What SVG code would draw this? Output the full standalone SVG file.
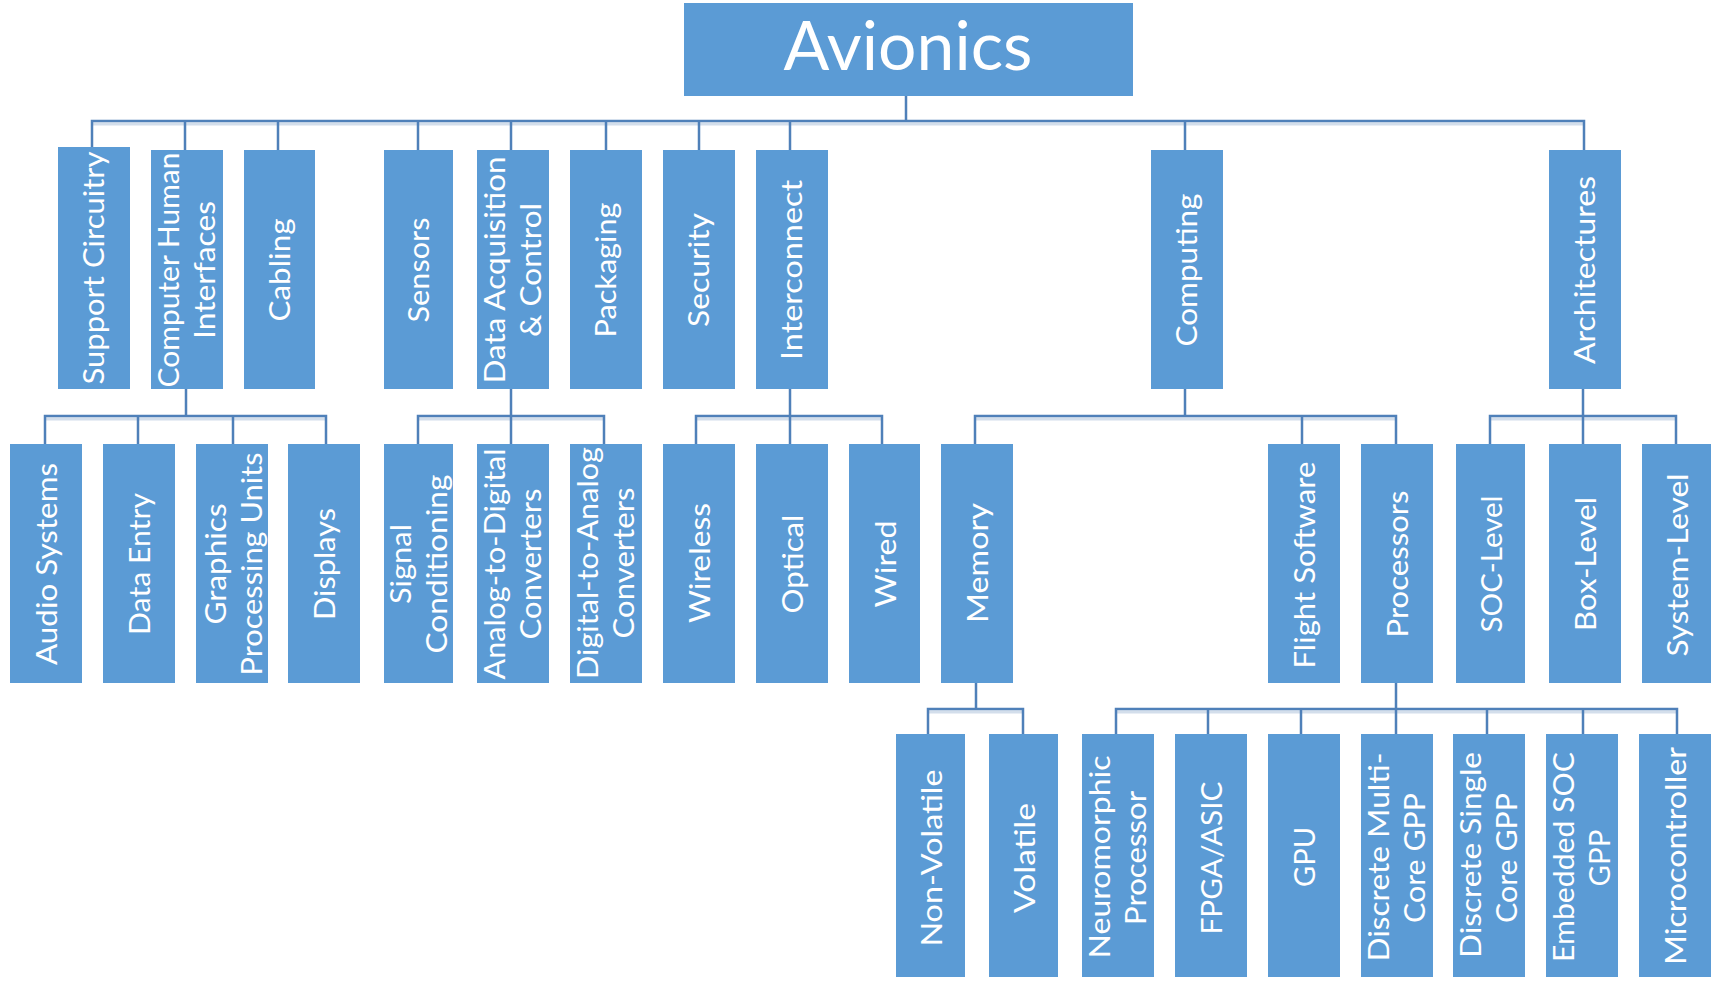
<svg xmlns="http://www.w3.org/2000/svg" width="1711" height="981" viewBox="0 0 1711 981">
<style>
.box{fill:#5b9bd5}
.lbl{fill:#ffffff;font-family:Lato,"Liberation Sans",sans-serif;font-size:29px;text-anchor:middle}
.title{fill:#ffffff;font-family:Lato,"Liberation Sans",sans-serif;font-size:67px;text-anchor:middle}
.ln{fill:none;stroke:#4f80b9;stroke-width:2.5}
.sh{fill:none;stroke:#d3deeb;stroke-width:3}
</style>
<rect width="1711" height="981" fill="#ffffff"/>
<g id="connectors">
<g class="sh-group">
<path class="sh" d="M92 124H1584M45 419H326M418 419H604M696 419H882M975 419H1396M1490 419H1676M928 712H1023M1116 712H1677"/>
</g>
<path class="ln" d="M906 96V121M92 147V121H1584V150M185 121V150M278 121V150M418 121V150M511 121V150M606 121V150M699 121V150M790 121V150M1185 121V150"/>
<path class="ln" d="M186 389V416M45 444V416H326V444M138 416V444M233 416V444"/>
<path class="ln" d="M511 389V416M418 444V416H604V444M511 416V444"/>
<path class="ln" d="M790 389V416M696 444V416H882V444M790 416V444"/>
<path class="ln" d="M1185 389V416M975 444V416H1396V444M1302 416V444"/>
<path class="ln" d="M1583 389V416M1490 444V416H1676V444M1583 416V444"/>
<path class="ln" d="M976 683V709M928 734V709H1023V734"/>
<path class="ln" d="M1396 683V734M1116 734V709H1677V734M1208 709V734M1301 709V734M1487 709V734M1583 709V734"/>
</g>
<g id="n-avionics"><rect class="box" x="684" y="3" width="449" height="93"/><text class="title" x="908" y="70" textLength="249" lengthAdjust="spacingAndGlyphs">Avionics</text></g>
<g id="n-support"><rect class="box" x="58" y="147" width="72" height="242"/><text class="lbl" transform="translate(94,268) rotate(-90)" y="10" textLength="233" lengthAdjust="spacingAndGlyphs">Support Circuitry</text></g>
<g id="n-chi"><rect class="box" x="151" y="150" width="72" height="239"/><text class="lbl" transform="translate(187,270) rotate(-90)" y="-8" textLength="235" lengthAdjust="spacingAndGlyphs">Computer Human</text><text class="lbl" transform="translate(187,270) rotate(-90)" y="28" textLength="138" lengthAdjust="spacingAndGlyphs">Interfaces</text></g>
<g id="n-cabling"><rect class="box" x="244" y="150" width="71" height="239"/><text class="lbl" transform="translate(279.5,270) rotate(-90)" y="10" textLength="103" lengthAdjust="spacingAndGlyphs">Cabling</text></g>
<g id="n-sensors"><rect class="box" x="384" y="150" width="69" height="239"/><text class="lbl" transform="translate(418.5,270) rotate(-90)" y="10" textLength="105" lengthAdjust="spacingAndGlyphs">Sensors</text></g>
<g id="n-dataacq"><rect class="box" x="477" y="150" width="72" height="239"/><text class="lbl" transform="translate(513,270) rotate(-90)" y="-8" textLength="227" lengthAdjust="spacingAndGlyphs">Data Acquisition</text><text class="lbl" transform="translate(513,270) rotate(-90)" y="28" textLength="134" lengthAdjust="spacingAndGlyphs">&amp; Control</text></g>
<g id="n-packaging"><rect class="box" x="570" y="150" width="72" height="239"/><text class="lbl" transform="translate(606,270) rotate(-90)" y="10" textLength="135" lengthAdjust="spacingAndGlyphs">Packaging</text></g>
<g id="n-security"><rect class="box" x="663" y="150" width="72" height="239"/><text class="lbl" transform="translate(699,270) rotate(-90)" y="10" textLength="114" lengthAdjust="spacingAndGlyphs">Security</text></g>
<g id="n-interconnect"><rect class="box" x="756" y="150" width="72" height="239"/><text class="lbl" transform="translate(792,270) rotate(-90)" y="10" textLength="180" lengthAdjust="spacingAndGlyphs">Interconnect</text></g>
<g id="n-computing"><rect class="box" x="1151" y="150" width="72" height="239"/><text class="lbl" transform="translate(1187,270) rotate(-90)" y="10" textLength="153" lengthAdjust="spacingAndGlyphs">Computing</text></g>
<g id="n-architectures"><rect class="box" x="1549" y="150" width="72" height="239"/><text class="lbl" transform="translate(1585,270) rotate(-90)" y="10" textLength="188" lengthAdjust="spacingAndGlyphs">Architectures</text></g>
<g id="n-audio"><rect class="box" x="10" y="444" width="72" height="239"/><text class="lbl" transform="translate(46,564) rotate(-90)" y="11" textLength="202" lengthAdjust="spacingAndGlyphs">Audio Systems</text></g>
<g id="n-dataentry"><rect class="box" x="103" y="444" width="72" height="239"/><text class="lbl" transform="translate(139,564) rotate(-90)" y="11" textLength="142" lengthAdjust="spacingAndGlyphs">Data Entry</text></g>
<g id="n-gpus"><rect class="box" x="196" y="444" width="72" height="239"/><text class="lbl" transform="translate(232,564) rotate(-90)" y="-6" textLength="121" lengthAdjust="spacingAndGlyphs">Graphics</text><text class="lbl" transform="translate(232,564) rotate(-90)" y="30" textLength="223" lengthAdjust="spacingAndGlyphs">Processing Units</text></g>
<g id="n-displays"><rect class="box" x="288" y="444" width="72" height="239"/><text class="lbl" transform="translate(324,564) rotate(-90)" y="11" textLength="112" lengthAdjust="spacingAndGlyphs">Displays</text></g>
<g id="n-signal"><rect class="box" x="384" y="444" width="69" height="239"/><text class="lbl" transform="translate(418.5,564) rotate(-90)" y="-8" textLength="80" lengthAdjust="spacingAndGlyphs">Signal</text><text class="lbl" transform="translate(418.5,564) rotate(-90)" y="28" textLength="179" lengthAdjust="spacingAndGlyphs">Conditioning</text></g>
<g id="n-adc"><rect class="box" x="477" y="444" width="72" height="239"/><text class="lbl" transform="translate(513,564) rotate(-90)" y="-8" textLength="231" lengthAdjust="spacingAndGlyphs">Analog-to-Digital</text><text class="lbl" transform="translate(513,564) rotate(-90)" y="28" textLength="151" lengthAdjust="spacingAndGlyphs">Converters</text></g>
<g id="n-dac"><rect class="box" x="570" y="444" width="72" height="239"/><text class="lbl" transform="translate(606,563) rotate(-90)" y="-8" textLength="232" lengthAdjust="spacingAndGlyphs">Digital-to-Analog</text><text class="lbl" transform="translate(606,563) rotate(-90)" y="28" textLength="151" lengthAdjust="spacingAndGlyphs">Converters</text></g>
<g id="n-wireless"><rect class="box" x="663" y="444" width="72" height="239"/><text class="lbl" transform="translate(699,563) rotate(-90)" y="11" textLength="120" lengthAdjust="spacingAndGlyphs">Wireless</text></g>
<g id="n-optical"><rect class="box" x="756" y="444" width="72" height="239"/><text class="lbl" transform="translate(792,564) rotate(-90)" y="11" textLength="99" lengthAdjust="spacingAndGlyphs">Optical</text></g>
<g id="n-wired"><rect class="box" x="849" y="444" width="71" height="239"/><text class="lbl" transform="translate(884.5,564) rotate(-90)" y="11" textLength="87" lengthAdjust="spacingAndGlyphs">Wired</text></g>
<g id="n-memory"><rect class="box" x="941" y="444" width="72" height="239"/><text class="lbl" transform="translate(977,563) rotate(-90)" y="11" textLength="120" lengthAdjust="spacingAndGlyphs">Memory</text></g>
<g id="n-flightsw"><rect class="box" x="1268" y="444" width="72" height="239"/><text class="lbl" transform="translate(1304,565) rotate(-90)" y="11" textLength="207" lengthAdjust="spacingAndGlyphs">Flight Software</text></g>
<g id="n-processors"><rect class="box" x="1361" y="444" width="72" height="239"/><text class="lbl" transform="translate(1397,564) rotate(-90)" y="11" textLength="147" lengthAdjust="spacingAndGlyphs">Processors</text></g>
<g id="n-soc"><rect class="box" x="1456" y="444" width="69" height="239"/><text class="lbl" transform="translate(1490.5,564) rotate(-90)" y="11" textLength="137" lengthAdjust="spacingAndGlyphs">SOC-Level</text></g>
<g id="n-box"><rect class="box" x="1549" y="444" width="72" height="239"/><text class="lbl" transform="translate(1585,564) rotate(-90)" y="11" textLength="134" lengthAdjust="spacingAndGlyphs">Box-Level</text></g>
<g id="n-system"><rect class="box" x="1642" y="444" width="69" height="239"/><text class="lbl" transform="translate(1676.5,565) rotate(-90)" y="11" textLength="183" lengthAdjust="spacingAndGlyphs">System-Level</text></g>
<g id="n-nonvolatile"><rect class="box" x="896" y="734" width="69" height="243"/><text class="lbl" transform="translate(930.5,858) rotate(-90)" y="11" textLength="177" lengthAdjust="spacingAndGlyphs">Non-Volatile</text></g>
<g id="n-volatile"><rect class="box" x="989" y="734" width="69" height="243"/><text class="lbl" transform="translate(1023.5,858) rotate(-90)" y="11" textLength="110" lengthAdjust="spacingAndGlyphs">Volatile</text></g>
<g id="n-neuro"><rect class="box" x="1082" y="734" width="72" height="243"/><text class="lbl" transform="translate(1118,857) rotate(-90)" y="-8" textLength="203" lengthAdjust="spacingAndGlyphs">Neuromorphic</text><text class="lbl" transform="translate(1118,858) rotate(-90)" y="28" textLength="134" lengthAdjust="spacingAndGlyphs">Processor</text></g>
<g id="n-fpga"><rect class="box" x="1175" y="734" width="72" height="243"/><text class="lbl" transform="translate(1211,858) rotate(-90)" y="11" textLength="153" lengthAdjust="spacingAndGlyphs">FPGA/ASIC</text></g>
<g id="n-gpu"><rect class="box" x="1268" y="734" width="72" height="243"/><text class="lbl" transform="translate(1304,857) rotate(-90)" y="11" textLength="60" lengthAdjust="spacingAndGlyphs">GPU</text></g>
<g id="n-multicore"><rect class="box" x="1361" y="734" width="72" height="243"/><text class="lbl" transform="translate(1397,857) rotate(-90)" y="-8" textLength="209" lengthAdjust="spacingAndGlyphs">Discrete Multi-</text><text class="lbl" transform="translate(1397,858) rotate(-90)" y="28" textLength="130" lengthAdjust="spacingAndGlyphs">Core GPP</text></g>
<g id="n-singlecore"><rect class="box" x="1453" y="734" width="72" height="243"/><text class="lbl" transform="translate(1489,855) rotate(-90)" y="-8" textLength="206" lengthAdjust="spacingAndGlyphs">Discrete Single</text><text class="lbl" transform="translate(1489,858) rotate(-90)" y="28" textLength="130" lengthAdjust="spacingAndGlyphs">Core GPP</text></g>
<g id="n-embedded"><rect class="box" x="1546" y="734" width="72" height="243"/><text class="lbl" transform="translate(1582,857) rotate(-90)" y="-8" textLength="210" lengthAdjust="spacingAndGlyphs">Embedded SOC</text><text class="lbl" transform="translate(1582,858) rotate(-90)" y="28" textLength="57" lengthAdjust="spacingAndGlyphs">GPP</text></g>
<g id="n-micro"><rect class="box" x="1639" y="734" width="72" height="243"/><text class="lbl" transform="translate(1675,856) rotate(-90)" y="11" textLength="218" lengthAdjust="spacingAndGlyphs">Microcontroller</text></g>
</svg>
